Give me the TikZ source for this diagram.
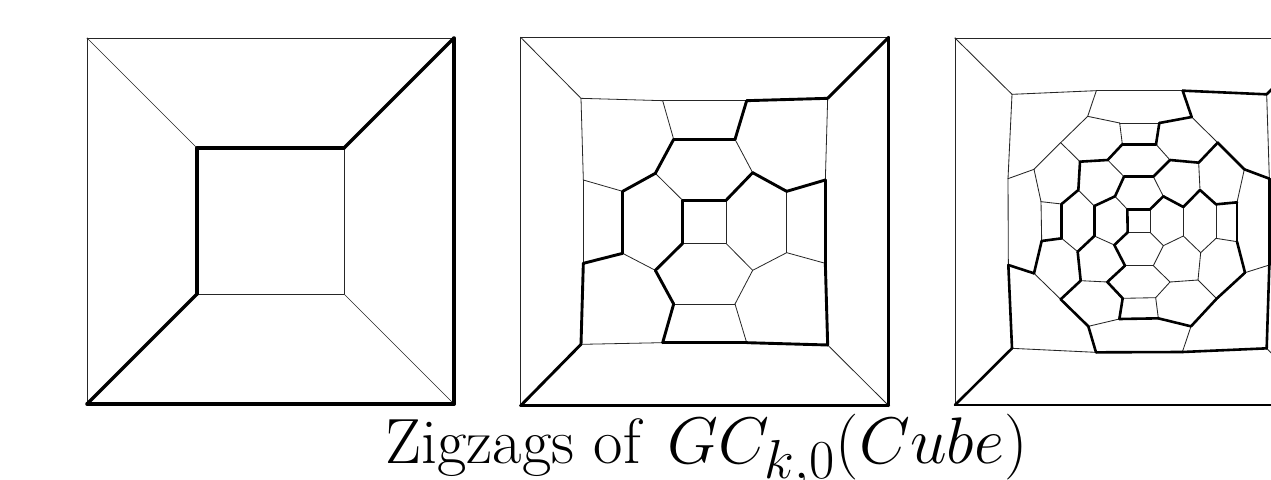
\documentclass[tikz,border=0pt]{standalone}
\tikzset{
  pic frame/.style={x=1pt,y=-1pt},
  fine1/.style={draw=black!85,line width=0.7pt,line cap=round},
  bold1/.style={draw=black,line width=3.5pt,line cap=round},
  fine2/.style={draw=black!85,line width=0.8pt,line cap=round},
  bold2/.style={draw=black,line width=2.9pt,line cap=round},
  fine3/.style={draw=black!85,line width=0.85pt,line cap=round},
  bold3/.style={draw=black,line width=2.6pt,line cap=round},
  caption/.style={anchor=base west,inner sep=0pt,scale=2.57,font=\Huge}
}
\begin{document}
\begin{tikzpicture}[pic frame]
\path[use as bounding box,fill=white] (0,0) rectangle (1271,479);
\clip (0,0) rectangle (1271,479);

% ---------- panel 1 ----------
\foreach \n/\x/\y in {TL/87/38,TR/454/38,BL/87/404,BR/454/404,
  i1/197/148,i2/344/148,i3/344/294,i4/197/294}
  {\coordinate (p\n) at (\x,\y);}
\foreach \a/\b in {TL/TR,TL/BL,TL/i1,i2/i3,i3/i4,i3/BR}
  {\draw[fine1] (p\a) -- (p\b);}
\foreach \a/\b in {TR/BR,BL/BR,TR/i2,i2/i1,i1/i4,i4/BL}
  {\draw[bold1] (p\a) -- (p\b);}

% ---------- panel 2 ----------
\foreach \n/\x/\y in {TL/32/22,TR/1136/22,BL/32/1127,BR/1136/1127,
  a1/213/205,a2/458/212,a3/710/212,a4/953/205,
  b1/491/328,b2/675/328,c1/436/430,c2/728/428,
  d1/220/450,d2/338/484,d3/830/484,d4/946/450,
  e1/518/511,e2/648/511,e3/518/640,e4/648/640,
  f1/220/700,f2/338/670,f3/830/668,f4/946/700,
  g1/436/721,g2/728/721,h1/491/822,h2/675/822,
  i1/213/943,i2/458/938,i3/710/938,i4/953/945}
  {\coordinate (q\n) at ({510+\x/3},{30+\y/3});}
\foreach \a/\b in {TL/TR,TL/BL,TL/a1,BR/i4,a1/a2,a2/a3,a1/d1,a4/d4,a2/b1,
  b2/c2,c1/e1,d1/d2,d3/f3,d1/f1,e2/e4,e3/e4,e4/g2,f2/g1,f3/g2,f3/f4,
  g2/h2,h1/h2,h2/i3,i1/i2}
  {\draw[fine2] (q\a) -- (q\b);}
\foreach \a/\b in {TR/BR,BL/BR,BL/i1,TR/a4,a3/a4,a3/b2,b1/b2,b1/c1,c1/d2,
  c2/e2,c2/d3,d3/d4,d2/f2,d4/f4,e1/e2,e1/e3,e3/g1,f1/f2,f1/i1,f4/i4,
  g1/h1,h1/i2,i2/i3,i3/i4}
  {\draw[bold2] (q\a) -- (q\b);}

% ---------- panel 3 ----------
\foreach \n/\x/\y in {TL/955/38,TR/1322/38,BL/955/405,BR/1322/405}
  {\coordinate (r\n) at (\x,\y);}
\foreach \n/\x/\y in {A1/66/43,A2/319/32,A3/578/32,A4/830/43,
  B1/293/109,B2/605/111,C1/389/129,C2/508/129,D1/212/188,D2/683/188,
  E1/397/193,E2/498/193,F1/270/245,F2/353/240,F3/540/240,F4/626/248,
  G1/132/268,G2/763/268,H1/54/296,H2/838/296,I1/402/290,I2/490/290,
  J1/265/330,J2/630/330,K1/375/349,K2/520/349,
  L1/153/365,L2/215/372,L3/313/378,L4/412/388,L5/480/388,L6/580/381,L7/678/373,L8/741/367}
  {\coordinate (r\n) at ({990+\x/3},{80+\y/3});}
\foreach \n/\x/\y in {l1/155/93,l2/215/85,l3/313/78,l4/413/67,l5/480/67,l6/580/78,l7/678/85,l8/741/95,
  M1/263/125,M2/373/105,M3/520/107,M4/632/128,N1/132/190,N2/765/188,
  O1/55/165,O2/838/165,P1/405/167,P2/490/167,
  Q1/272/212,Q2/352/216,Q3/540/216,Q4/624/210,R1/212/268,R2/680/266,
  S1/398/265,S2/497/263,T1/388/327,T2/505/325,U1/295/349,U2/603/349,
  V1/66/415,V2/318/427,V3/577/426,V4/830/415}
  {\coordinate (r\n) at ({990+\x/3},{210+\y/3});}
\foreach \a/\b in {TL/TR,TL/BL,TL/A1,BR/V4,
  A1/A2,A2/A3,A1/H1,A4/H2,A2/B1,B1/C1,C1/C2,C1/E1,B1/D1,B2/D2,D1/F1,D1/G1,
  E2/F3,F2/I1,F4/J2,G1/H1,G1/L1,G2/L8,I2/K2,J1/L3,K1/L4,L1/L2,
  H1/O1,L1/l1,L5/l5,L6/l6,L7/l7,
  l2/M1,l3/M2,l4/l5,l5/M3,l6/M3,l6/M4,l7/M4,l7/l8,M3/P2,M4/Q4,N2/O2,N1/R1,
  P1/P2,P2/Q3,Q1/Q2,Q3/Q4,Q4/R2,Q3/S2,S1/S2,S2/T2,T1/U1,U2/V3,V1/V2}
  {\draw[fine3] (r\a) -- (r\b);}
\foreach \a/\b in {TR/BR,BL/BR,TR/A4,BL/V1,
  A3/A4,A3/B2,B2/C2,C2/E2,E1/E2,D2/G2,D2/F4,E1/F2,F1/F2,F3/F4,F3/I2,I1/I2,
  F1/J1,G2/H2,I1/K1,J1/L2,J2/L6,J2/L7,K1/L3,K2/L5,K2/L6,L7/L8,L4/L5,
  H2/O2,L2/l2,L3/l3,L4/l4,L8/l8,
  l1/l2,l3/M1,l4/M2,l1/N1,l8/N2,M1/Q1,M2/P1,N1/O1,N2/R2,P1/Q2,Q1/R1,Q2/S1,
  S1/T1,T1/T2,T2/U2,R1/U1,R2/U2,U1/V2,V2/V3,V3/V4,O1/V1,O2/V4}
  {\draw[bold3] (r\a) -- (r\b);}

% ---------- caption ----------
\node[caption] (cap) at (385,463) {Zigzags of\hspace{0.12em} \scalebox{1.03}{$GC_{k,0}(Cube)$}};
\end{tikzpicture}
\end{document}
